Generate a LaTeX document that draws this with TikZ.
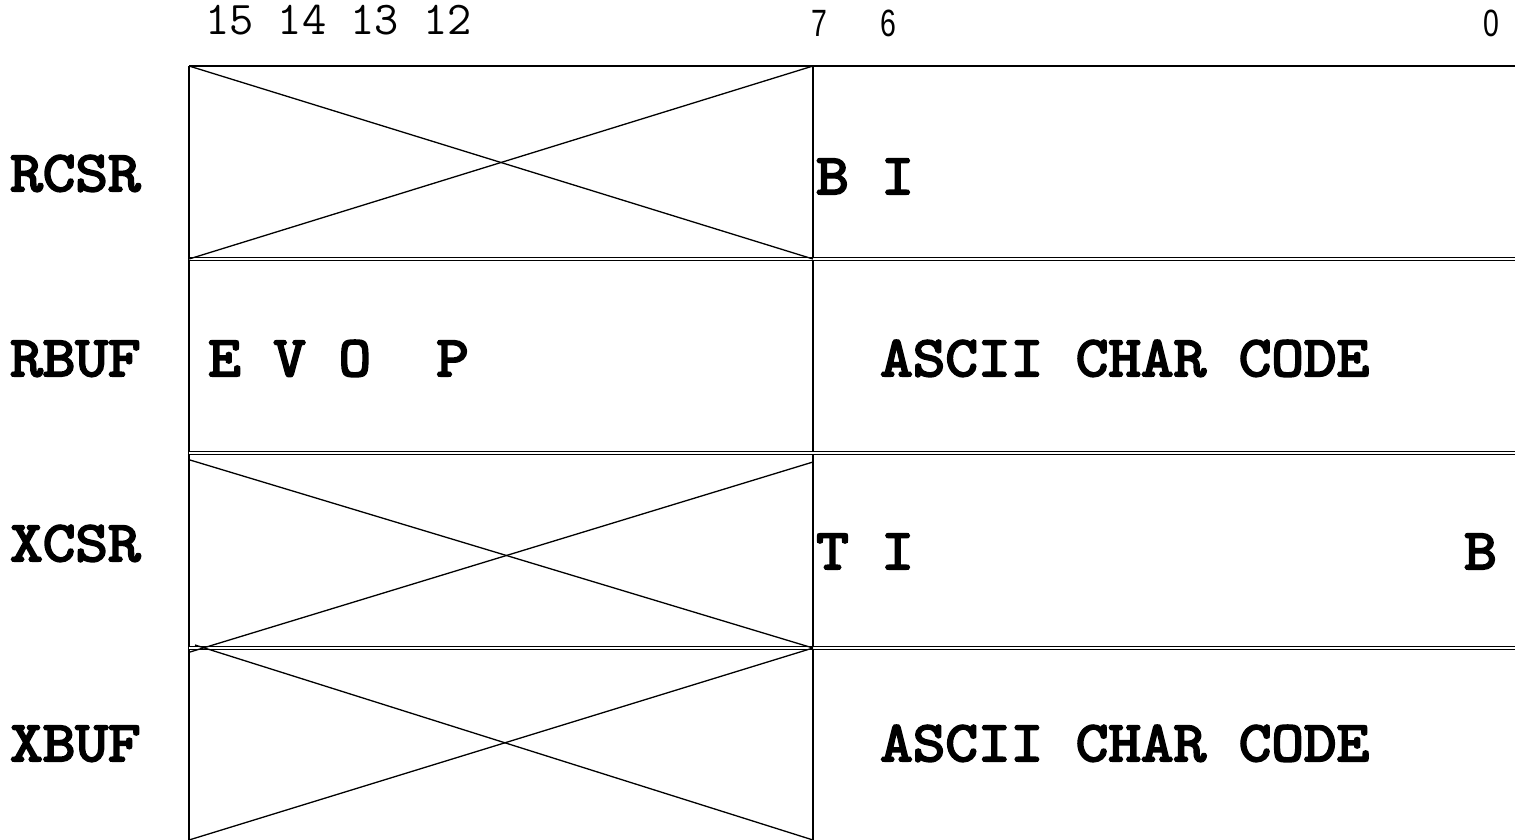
\documentclass[tikz,border=0pt]{standalone}
\usepackage{fontspec}
\newfontfamily\regsans{Liberation Sans}
\newfontfamily\monobold{lmmono10-regular.otf}[FakeBold=3.5,FakeStretch=1.08]
\begin{document}
\begin{tikzpicture}[x=1pt,y=-1pt,
  lbl/.style={anchor=base west,inner sep=0pt,font=\monobold\fontsize{57.5}{64}\selectfont},
  bitnum/.style={anchor=base west,inner sep=0pt,font=\ttfamily\fontsize{47}{52}\selectfont},
  bitsans/.style={anchor=base west,inner sep=0pt,font=\regsans\fontsize{38}{44}\selectfont},
  frame/.style={line width=1.4pt},
  dbl/.style={line width=1.2pt,double=white,double distance=1.8pt},
  xline/.style={line width=1.3pt}]
\useasboundingbox (0,0) rectangle (1515,840);
% bit numbers
\node[bitnum] (n15) at (205,35) {15 14 13 12};
\node[bitsans] (n7) at (811,37) {\scalebox{0.75}[1]{7}};
\node[bitsans] (n6) at (880,37) {\scalebox{0.75}[1]{6}};
\node[bitsans] (n0) at (1483,37) {\scalebox{0.75}[1]{0}};
% frame
\draw[frame] (189,66) -- (1515,66);
\draw[frame] (189,66) -- (189,840);
\draw[frame] (813,66) -- (813,840);
\draw[dbl] (189,259) -- (1515,259);
\draw[dbl] (189,453) -- (1515,453);
\draw[dbl] (189,648) -- (1515,648);
% crosses
\draw[xline] (189,66) -- (813,259);
\draw[xline] (189,259) -- (813,66);
\draw[xline] (190,460) -- (813,648);
\draw[xline] (813,462) -- (190,652);
\draw[xline] (195,645) -- (813,840);
\draw[xline] (189,840) -- (813,648);
% register names
\node[lbl] (rcsr) at (10,191) {RCSR};
\node[lbl] (rbuf) at (10,376) {RBUF};
\node[lbl] (xcsr) at (10,561) {XCSR};
\node[lbl] (xbuf) at (10,761) {XBUF};
% field contents
\node[lbl] (rcsrbits) at (816,194) {B I};
\node[lbl] (rbufhi) at (208,376) {E V O\ \ P};
\node[lbl] (rbuflo) at (880,376) {ASCII CHAR CODE};
\node[lbl] (xcsrbits) at (816,569) {T I};
\node[lbl] (xcsrb) at (1464,569) {B};
\node[lbl] (xbuflo) at (880,761) {ASCII CHAR CODE};
\end{tikzpicture}
\end{document}
